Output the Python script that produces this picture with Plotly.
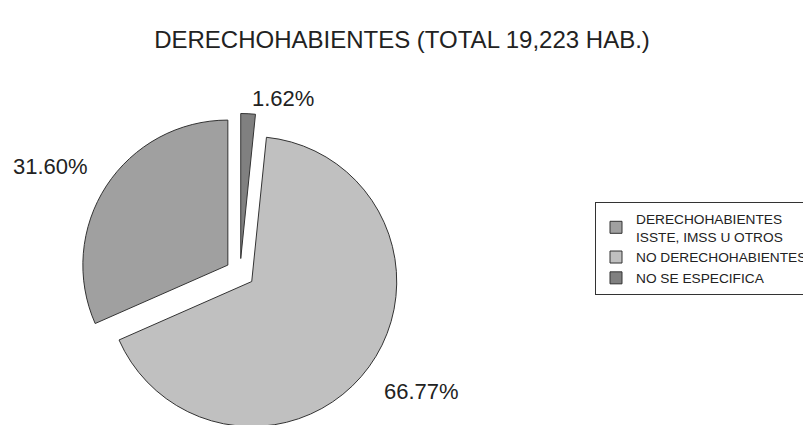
import plotly.graph_objects as go

categories = ["DERECHOHABIENTES<br>ISSTE, IMSS U OTROS", "NO DERECHOHABIENTES", "NO SE ESPECIFICA"]
percent_values = [31.60, 66.77, 1.62]
slice_colors = ["#a0a0a0", "#c0c0c0", "#808080"]
title_text = "DERECHOHABIENTES (TOTAL 19,223 HAB.)"

W, H = 811, 425
FONT = "Arial, Liberation Sans, sans-serif"
OFF = 8  # page offset of the figure inside the browser window


def px_x(v):
    return (v - OFF) / W


def px_y(v):
    return 1 - (v - OFF) / H


# first slice starts at 12 o'clock and runs counterclockwise
first_angle = 360.0 * percent_values[0] / sum(percent_values)

CX, CY, EXT = 240, 273, 159.5
fig = go.Figure(go.Pie(
    labels=categories,
    values=percent_values,
    sort=False,
    direction="counterclockwise",
    rotation=-first_angle,
    pull=[0.1, 0.1, 0.1],
    marker=dict(colors=slice_colors, line=dict(color="#333333", width=1)),
    textinfo="none",
    textposition="none",
    domain=dict(x=[px_x(CX - EXT), px_x(CX + EXT)], y=[max(0, px_y(CY + EXT)), px_y(CY - EXT)]),
    hoverinfo="label+value",
))

# percentage labels placed outside the slices
label_pos = [(50, 166), (421, 391), (283, 98)]
annotations = []
for v, (px, py) in zip(percent_values, label_pos):
    annotations.append(dict(
        text=f"{v:.2f}%", x=px_x(px), y=px_y(py), xref="paper", yref="paper",
        xanchor="center", yanchor="middle", showarrow=False,
        font=dict(family=FONT, size=22, color="#222222"),
    ))

fig.update_layout(
    width=W, height=H,
    margin=dict(l=0, r=0, t=0, b=0),
    paper_bgcolor="white",
    plot_bgcolor="white",
    title=dict(text=title_text, x=px_x(402), xanchor="center", y=px_y(40), yanchor="middle",
               font=dict(family=FONT, size=24, color="#222222")),
    legend=dict(
        x=px_x(595), xanchor="left", y=px_y(202), yanchor="top",
        bordercolor="#333333", borderwidth=1, bgcolor="white",
        font=dict(family=FONT, size=13.7, color="#222222"),
        tracegroupgap=0,
    ),
    annotations=annotations,
    showlegend=True,
)

fig.write_html("out.html")
